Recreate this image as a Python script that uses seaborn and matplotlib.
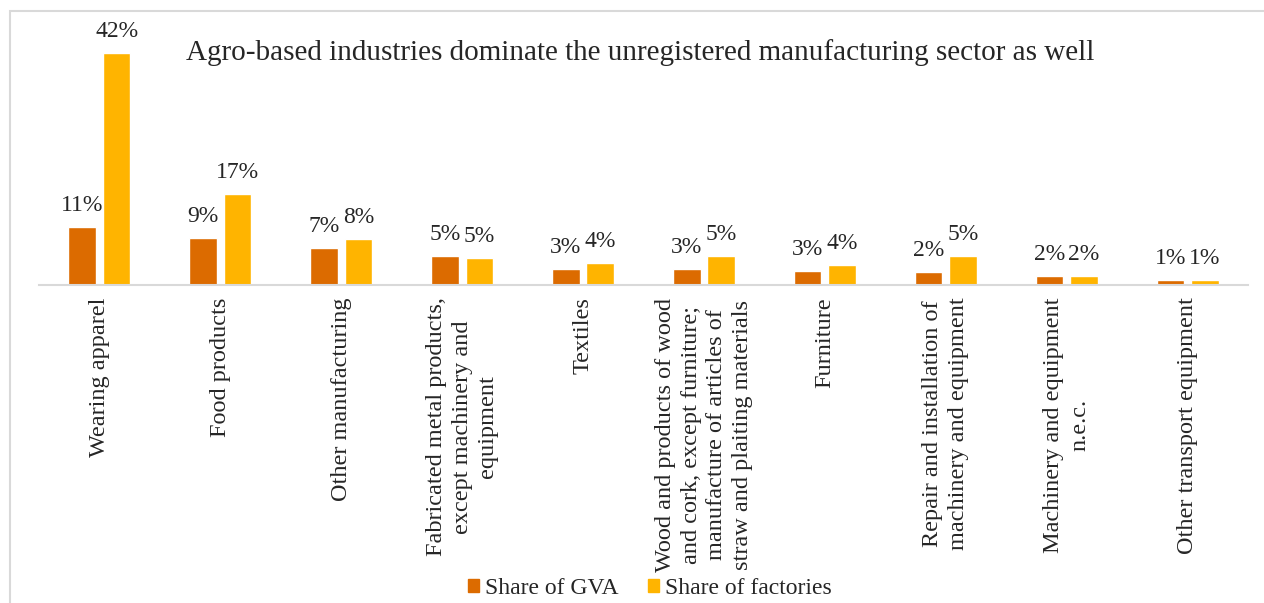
import numpy             as np
import pandas            as pd
import matplotlib.pyplot as plt
import seaborn           as sns
from matplotlib.patches import Rectangle

sns.set_style('white')
plt.rcParams['font.family'] = ['Liberation Serif', 'DejaVu Serif']

# Data (percent)
sectors = ['Wearing apparel',
           'Food products',
           'Other manufacturing',
           'Fabricated metal products,\nexcept machinery and\nequipment',
           'Textiles',
           'Wood and products of wood\nand cork, except furniture;\nmanufacture of articles of\nstraw and plaiting materials',
           'Furniture',
           'Repair and installation of\nmachinery and equipment',
           'Machinery and equipment\nn.e.c.',
           'Other transport equipment']
share_gva       = [10.6, 8.6, 6.8, 5.3, 2.9, 2.9, 2.6, 2.3, 1.6, 0.9]
share_factories = [42.3, 16.6, 8.4, 4.9, 4.0, 5.3, 3.7, 5.3, 1.7, 0.9]
series_names    = ['Share of GVA', 'Share of factories']
colors          = ['#DC6B00', '#FFB400']

df = pd.DataFrame({'sector': sectors * 2,
                   'value':  share_gva + share_factories,
                   'series': [series_names[0]] * len(sectors) + [series_names[1]] * len(sectors)})

fig = plt.figure(figsize = (12.64, 6.03), dpi = 100)
ax  = fig.add_axes([39 / 1264, 1 - 285 / 603, (1248 - 39) / 1264, (285 - 38) / 603])

sns.barplot(data       = df,
            x          = 'sector',
            y          = 'value',
            hue        = 'series',
            palette    = colors,
            saturation = 1,
            width      = 0.57,
            gap        = 0.2,
            ax         = ax)

for cont in ax.containers:
    vals = [b.get_height() for b in cont]
    ax.bar_label(cont, labels = [f'{round(v)}%' for v in vals], padding = 8, fontsize = 17)

ax.set_ylim(0, 45)
ax.set_xlim(-0.5, len(sectors) - 0.5)
ax.set_yticks([])
ax.set_xlabel(None)
ax.set_ylabel(None)
ax.tick_params(axis = 'x', length = 0, pad = 9)
for lab in ax.get_xticklabels():
    lab.set_rotation(90)
    lab.set_fontsize(17.5)
    lab.set_multialignment('center')
    lab.set_verticalalignment('top')
    lab.set_horizontalalignment('center')
    lab.set_linespacing(1.3)

for s in ['top', 'left', 'right']:
    ax.spines[s].set_visible(False)
ax.spines['bottom'].set_color('#D9D9D9')
ax.spines['bottom'].set_linewidth(1.5)

ax.get_legend().remove()
handles = [Rectangle((0, 0), 1, 1, color = c) for c in colors]
fig.legend(handles, series_names,
           loc            = 'center',
           bbox_to_anchor = (650 / 1264, 1 - 588 / 603),
           ncols          = 2,
           frameon        = False,
           fontsize       = 17,
           handlelength   = 0.47,
           handleheight   = 0.47,
           handletextpad  = 0.25,
           columnspacing  = 1.25)

fig.text(186 / 1264, 1 - 60 / 603,
         'Agro-based industries dominate the unregistered manufacturing sector as well',
         fontsize = 21, ha = 'left', va = 'baseline')

# Light chart-area border (top and left edges visible in the reference)
fig.add_artist(Rectangle((10 / 1264, -0.1), 1.0, 1 - 10.5 / 603 + 0.1,
                         transform = fig.transFigure, fill = False,
                         edgecolor = '#D9D9D9', linewidth = 1.5))

plt.savefig('out.png', dpi = 100)
